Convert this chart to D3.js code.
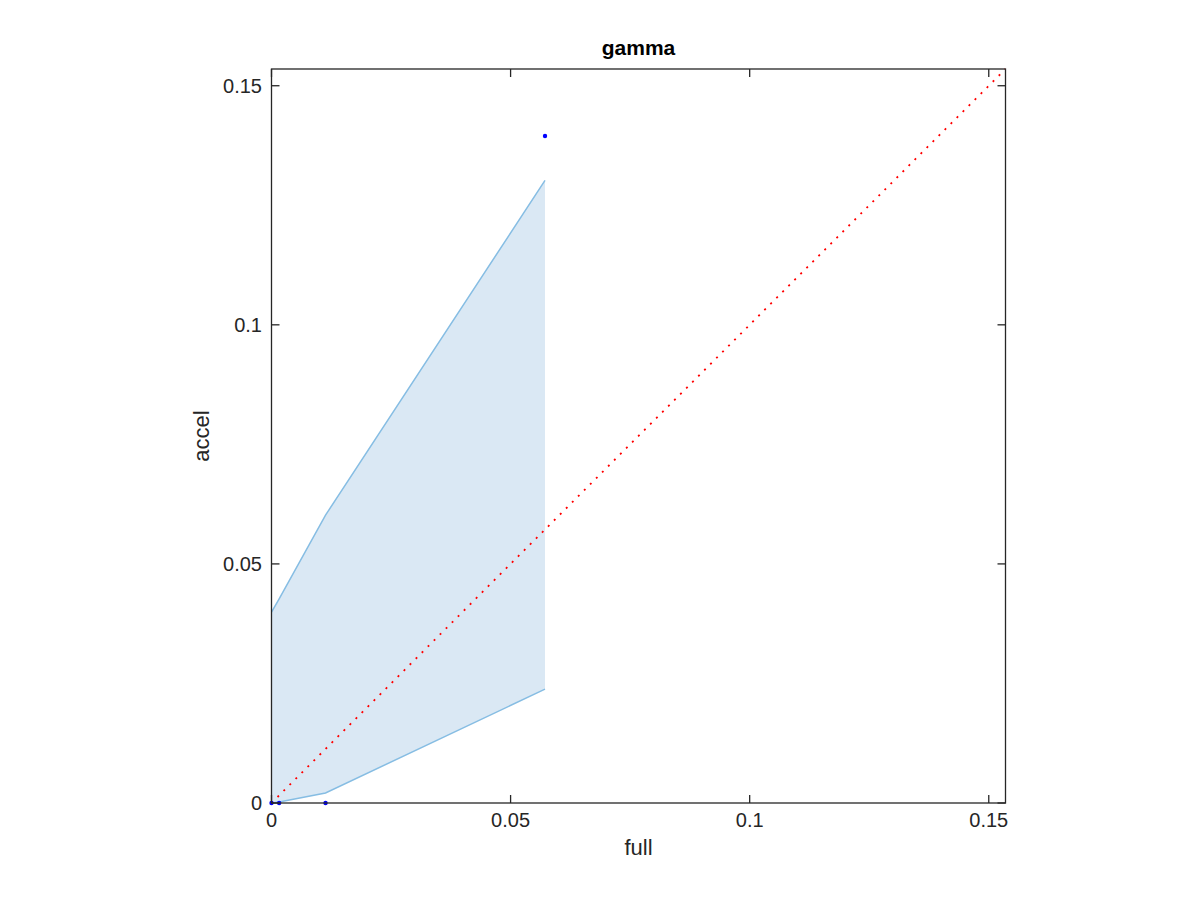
<!DOCTYPE html>
<html><head><meta charset="utf-8">
<script src="https://cdn.jsdelivr.net/npm/d3@7"></script>
<style>body{margin:0;background:#fff}svg{display:block}</style>
</head><body>
<script>
const xVals = [0, 0.0016, 0.0113, 0.0572];
const upperVals = [0.0399, 0.0427, 0.0602, 0.1302];
const lowerVals = [0, 0.0002, 0.0021, 0.0238];
const pointX = [0, 0.0016, 0.0113, 0.0572];
const pointY = [0, 0, 0, 0.1395];
const xTicks = [0, 0.05, 0.1, 0.15];
const yTicks = [0, 0.05, 0.1, 0.15];
const xTickLabels = ["0", "0.05", "0.1", "0.15"];
const yTickLabels = ["0", "0.05", "0.1", "0.15"];
const axisMax = 0.1535;
const titleText = "gamma", xLabel = "full", yLabel = "accel";

const W = 1200, H = 900;
const L = 271.5, R = 1005.5, T = 69, B = 803;
const svg = d3.select("body").append("svg").attr("width", W).attr("height", H);
const x = d3.scaleLinear().domain([0, axisMax]).range([L, R]);
const y = d3.scaleLinear().domain([0, axisMax]).range([B, T]);
const font = "Helvetica, 'Liberation Sans', Arial, sans-serif";
const col = "#262626";

const band = xVals.map((v, i) => ({x: v, lo: lowerVals[i], hi: upperVals[i]}));
svg.append("path").datum(band)
  .attr("d", d3.area().x(d => x(d.x)).y0(d => y(d.lo)).y1(d => y(d.hi)))
  .attr("fill", "#dae8f4").attr("stroke", "none");
svg.append("path").datum(band)
  .attr("d", d3.line().x(d => x(d.x)).y(d => y(d.hi)))
  .attr("fill", "none").attr("stroke", "#86bde3").attr("stroke-width", 1.5);
svg.append("path").datum(band)
  .attr("d", d3.line().x(d => x(d.x)).y(d => y(d.lo)))
  .attr("fill", "none").attr("stroke", "#86bde3").attr("stroke-width", 1.5);

svg.append("line").attr("x1", x(0)).attr("y1", y(0)).attr("x2", x(axisMax)).attr("y2", y(axisMax))
  .attr("stroke", "#ff0000").attr("stroke-width", 1.8).attr("stroke-dasharray", "2,6.5");

svg.selectAll("circle.pt").data(pointX.map((v, i) => [v, pointY[i]])).enter().append("circle")
  .attr("cx", d => x(d[0])).attr("cy", d => y(d[1])).attr("r", 2.2).attr("fill", "#0000ff");

// axes box
const g = svg.append("g");
g.append("rect").attr("x", L).attr("y", T).attr("width", R - L).attr("height", B - T)
  .attr("fill", "none").attr("stroke", col).attr("stroke-width", 1.3);
const tl = 8;
xTicks.forEach((t, i) => {
  g.append("line").attr("x1", x(t)).attr("x2", x(t)).attr("y1", B).attr("y2", B - tl).attr("stroke", col).attr("stroke-width", 1.3);
  g.append("line").attr("x1", x(t)).attr("x2", x(t)).attr("y1", T).attr("y2", T + tl).attr("stroke", col).attr("stroke-width", 1.3);
  g.append("text").attr("x", x(t)).attr("y", 827).attr("text-anchor", "middle")
    .attr("font-family", font).attr("font-size", 20).attr("fill", col).text(xTickLabels[i]);
});
yTicks.forEach((t, i) => {
  g.append("line").attr("x1", L).attr("x2", L + tl).attr("y1", y(t)).attr("y2", y(t)).attr("stroke", col).attr("stroke-width", 1.3);
  g.append("line").attr("x1", R).attr("x2", R - tl).attr("y1", y(t)).attr("y2", y(t)).attr("stroke", col).attr("stroke-width", 1.3);
  g.append("text").attr("x", 262).attr("y", y(t) + 7).attr("text-anchor", "end")
    .attr("font-family", font).attr("font-size", 20).attr("fill", col).text(yTickLabels[i]);
});
svg.append("text").attr("x", (L + R) / 2).attr("y", 855).attr("text-anchor", "middle")
  .attr("font-family", font).attr("font-size", 22).attr("fill", col).text(xLabel);
svg.append("text").attr("transform", `translate(209,${(T + B) / 2}) rotate(-90)`).attr("text-anchor", "middle")
  .attr("font-family", font).attr("font-size", 22).attr("fill", col).text(yLabel);
svg.append("text").attr("x", (L + R) / 2).attr("y", 55).attr("text-anchor", "middle")
  .attr("font-family", font).attr("font-size", 21).attr("font-weight", "bold").attr("fill", "#000").text(titleText);
</script>
</body></html>
